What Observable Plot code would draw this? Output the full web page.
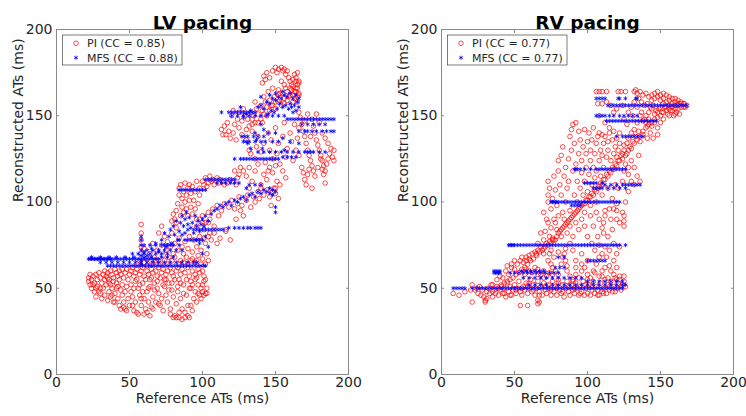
<!DOCTYPE html>
<html><head><meta charset="utf-8">
<script src="https://cdn.jsdelivr.net/npm/d3@7"></script>
<script src="https://cdn.jsdelivr.net/npm/@observablehq/plot@0.6"></script>
<style>
html,body{margin:0;padding:0;background:#fff;}
#wrap{position:relative;width:746px;height:416px;overflow:hidden;font-family:"DejaVu Sans",sans-serif;}
#wrap > svg{position:absolute;top:0;}
</style></head><body><div id="wrap"></div>
<script>
const titles = ["LV pacing", "RV pacing"];
const lvLegend = ["PI (CC = 0.85)", "MFS (CC = 0.88)"];
const rvLegend = ["PI (CC = 0.77)", "MFS (CC = 0.77)"];
const axisTicks = [0, 50, 100, 150, 200];
const xLabel = "Reference ATs (ms)";
const yLabel = "Reconstructed ATs (ms)";

// LV pacing, PI: flat [x, y, x, y, ...]
const lvPiPairs = [
22,56,22,54,23,52,23,58,24,55,25,57,26,53,27,58,28,55,29,59,30,56,31,53,32,58,33,60,34,57,35,59,36,55,37,60,38,58,39,56,40,61,41,59,42,57,43,60,44,58,45,61,46,56,47,59,48,61,50,58,51,60,52,62,53,57,54,59,55,61,57,58,58,60,59,62,60,57,62,60,63,58,65,61,66,59,68,60,69,57,70,62,72,59,73,61,75,58,76,60,78,62,79,59,80,57,82,60,83,62,85,58,86,61,88,59,90,62,91,57,93,60,95,58,97,61,98,59,100,60,101,57,102,55,
24,50,26,48,27,45,28,51,30,47,31,44,32,50,33,46,34,52,35,43,36,48,37,45,38,50,39,42,40,47,41,53,42,44,43,40,44,49,45,46,46,42,47,38,48,51,49,44,50,40,51,48,52,45,53,37,54,42,55,36,56,50,57,46,58,40,59,53,60,44,61,38,62,48,63,42,64,51,65,39,66,45,67,49,68,42,69,54,70,47,71,40,72,44,73,37,74,51,75,46,76,42,77,49,78,38,79,53,80,45,81,34,82,41,83,48,84,33,85,44,86,38,87,52,88,36,89,46,90,40,91,33,92,50,93,37,94,44,95,48,96,42,97,52,98,46,99,50,100,48,101,54,102,47,103,50,80,33,82,33,86,32,88,33,90,34,56,35,48,37,62,36,66,38,44,38,70,41,30,50,36,53,42,51,54,54,64,55,74,55,84,55,92,54,
25,52,27,50,29,48,33,55,35,56,37,52,39,54,41,50,43,55,45,52,47,48,49,55,51,52,53,50,55,55,57,52,59,48,61,55,63,50,65,56,67,53,69,50,71,56,73,52,75,55,77,53,79,49,81,55,83,51,85,53,87,47,89,55,91,50,93,52,95,55,97,47,99,44,101,46,103,47,100,52,96,56,60,35,64,34,84,36,78,35,92,40,58,44,46,39,52,40,40,42,38,46,
55,64,57,66,58,70,58,74,58,78,58,82,58,87,60,65,62,67,64,70,65,64,67,68,69,72,70,66,72,75,73,69,74,80,75,72,76,77,77,68,78,74,79,82,80,70,81,76,82,85,83,72,84,79,85,66,86,74,87,70,88,77,89,68,90,73,91,80,92,66,93,71,94,78,95,65,96,74,97,69,98,80,99,72,100,67,101,84,102,76,103,70,104,88,105,82,100,88,98,90,96,86,70,82,72,86,66,76,60,73,
62,63,66,64,68,66,71,64,74,66,76,64,79,66,81,68,84,64,87,65,90,64,93,67,96,66,99,64,102,64,104,66,
81,90,82,95,83,99,84,104,84,108,85,92,85,110,86,97,86,102,87,106,87,94,88,100,88,111,89,96,89,104,90,108,90,92,91,101,91,110,92,97,92,105,93,93,93,109,94,101,95,96,95,106,96,90,96,112,97,99,98,104,82,88,80,93,79,89,
98,108,100,112,101,110,102,114,103,109,104,111,105,115,106,112,107,113,108,110,110,114,111,111,112,113,114,112,115,110,117,111,119,113,121,112,123,110,124,114,125,116,
100,92,102,88,104,94,105,90,107,96,108,86,110,98,111,92,113,95,115,99,116,84,118,97,119,78,120,101,122,96,124,99,125,103,127,98,128,92,130,101,131,104,133,97,135,103,136,100,138,106,139,102,140,108,142,104,144,107,146,103,148,106,150,105,147,98,152,102,150,108,123,90,126,95,108,82,104,80,112,79,116,83,101,79,110,76,106,78,
128,118,130,115,132,120,134,112,136,118,138,122,140,110,142,116,144,113,146,120,149,108,151,112,153,110,155,118,157,114,126,120,122,118,132,108,
113,142,115,144,116,139,117,146,118,141,119,137,120,150,121,140,122,145,123,136,124,148,125,143,125,152,127,139,127,147,128,154,114,139,121,153,
141,169,142,173,143,171,144,175,146,172,148,176,150,178,151,175,152,177,154,178,155,176,156,177,157,174,158,176,159,172,160,170,161,168,162,171,163,174,164,172,165,175,166,170,164,166,166,163,163,164,162,167,165,168,156,168,154,170,152,165,148,166,145,164,153,163,
165,158,166,162,165,166,166,169,164,170,163,160,162,158,160,162,158,159,156,157,154,156,152,158,150,154,148,156,146,153,144,150,142,151,140,148,138,146,136,146,134,148,
129,150,131,148,133,152,135,150,137,154,138,151,140,156,141,153,143,158,144,155,146,159,147,156,149,161,150,158,152,162,153,159,155,163,156,160,158,164,159,161,161,165,162,162,164,164,165,161,160,166,157,166,142,161,136,158,134,145,132,144,130,142,
130,136,132,130,133,128,134,141,136,125,137,132,138,138,140,129,141,146,142,134,143,123,145,140,146,130,147,136,148,125,150,143,151,128,152,134,153,122,155,138,156,146,157,126,158,131,160,140,161,135,162,124,163,145,164,130,165,137,166,127,150,121,148,117,145,118,
166,152,167,149,168,145,169,141,170,138,171,134,172,130,173,127,174,124,175,121,176,118,177,115,168,120,169,117,170,113,171,110,172,116,173,119,175,148,176,144,177,140,178,136,179,133,180,130,181,127,182,124,183,121,184,118,185,122,186,125,187,128,188,131,189,126,190,130,190,124,182,140,184,137,186,134,180,146,178,151,172,151,170,147,175,108,182,119,183,116,184,111,181,125,179,120,166,143,174,138
];

// LV pacing, MFS: horizontal runs (level y, x positions) plus scattered points
const lvMfsLevels = [67,68,65,63,70,75,72,78,84,85,107,113,111,125,129,126,135,138,141,148,152,150,145];
const lvMfsRunX = [
[22,23,24,25,26,27,28,29,30,31,32,33,34,35,36,37,38,40,42,44,46,48,50,52,54,56,58,60,62,64,66,68,70],
[24,30,36,41,47,53,60,65,72,76,80],
[30,34,38,42,46,50,54,58,62,66,70,74,78,82,86,90,94,96],
[35,37,39,41,43,45,47,49,51,53,55,57,59,61,63,65,67,69,71,73,75,77,79,81,83,85,87,89,91,93,95,97,99,101,102],
[52,56,60,64,68,72,76],
[60,64,68,72,74,76,78,80,84],
[62,66,70,74,78,82,86],
[84,88,90,92,94,96,98,100],
[94,96,98,100,102,104,106,108,110,112,114],
[118,122,125,128,131,133,136,138,140],
[84,86,88,90,92,94,96,98,100,102],
[102,104,106,108,110,112,114,116,118,120,122],
[110,113,116,119,122,125],
[122,126,128,130,132,134,136,138,140,142,144,146,148,150,152],
[138,142,146,150,154,158,162,166,170,172,174,176,180,184],
[155,158,161,164],
[128,130,132,136,140,143,148,152],
[127,129,131,135,138,142],
[166,170,172,175,178,182,185,188,190],
[158,160,162,164,166,168,170,172,174,176,178,180,182,184,186,188,190],
[113,118,120,122,124,126,128,130,132,134],
[120,124,128,132,136,140,144,148,152,156],
[168,172,176,180,184]
];
const lvMfsPairs = [
58,64,58,66,58,69,58,72,58,75,58,78,58,80,60,71,62,69,65,73,68,76,70,71,72,78,74,82,75,74,77,80,78,84,79,76,80,86,81,81,82,89,83,78,84,83,85,88,86,81,86,92,87,86,88,90,88,82,89,94,90,87,90,84,91,91,92,85,93,88,94,82,95,92,96,86,97,89,98,83,99,87,100,90,101,86,102,92,104,89,106,93,108,95,110,96,112,98,114,97,116,99,118,100,120,98,122,101,124,100,126,102,128,103,130,101,132,104,134,105,136,103,138,106,140,105,142,107,144,106,146,105,148,107,150,106,150,97,150,94,148,104,146,108,130,108,132,110,136,110,140,110,100,70,104,74,102,80,98,76,96,78,
130,151,133,153,136,152,138,155,140,156,142,154,144,158,146,157,148,160,150,159,152,161,154,160,156,162,158,161,160,163,162,160,164,162,165,158,163,156,161,155,159,154,157,156,155,155,153,157,151,154,149,152,147,153,145,151,166,155,166,160,164,153,146,162,140,161,150,163,155,164,160,157,162,152,140,145,142,142,145,140,136,140,150,140,155,137,160,135,126,155,128,149,131,134,133,131,137,136,141,131,156,130,166,134
];

// RV pacing, PI
const rvPiPairs = [
8,47,12,46,16,48,21,42,21,52,23,49,25,47,26,51,28,49,29,45,30,43,30,42,31,44,32,50,33,47,34,52,35,45,36,49,37,47,38,51,39,46,40,49,41,52,42,47,43,50,44,45,45,53,46,48,47,51,48,46,49,49,50,52,51,47,52,50,53,54,54,48,55,46,56,51,57,49,58,53,59,47,60,50,61,55,62,48,63,52,64,46,65,50,66,54,67,48,68,51,69,46,70,53,71,49,72,47,73,52,74,50,75,46,76,54,77,48,78,51,79,46,80,53,81,49,82,47,83,52,84,45,85,50,86,54,87,48,88,46,89,52,90,49,91,47,92,53,93,50,94,46,95,51,96,48,97,54,98,46,99,50,100,47,101,52,102,46,103,49,104,54,105,47,106,51,107,49,108,46,109,53,110,48,111,50,112,55,113,47,114,52,115,49,116,54,117,48,118,51,119,56,120,50,121,53,122,55,123,49,124,52,125,54,126,51,
20,49,24,50,27,46,31,48,35,48,39,50,43,47,47,46,51,49,55,50,59,51,63,49,67,46,71,51,75,49,79,50,83,48,87,51,91,50,95,47,99,52,103,51,107,46,111,47,115,51,119,48,123,51,60,53,70,56,80,55,90,54,100,55,110,57,120,55,125,57,105,59,115,63,118,66,108,68,96,64,92,62,86,60,76,58,66,58,
54,40,59,40,66,41,67,42,66,43,
35,52,38,55,40,57,42,56,44,60,46,58,48,62,50,61,52,64,54,66,56,65,58,68,60,67,62,70,64,71,66,72,68,74,70,73,72,76,74,77,76,79,78,78,80,82,82,84,84,86,86,88,88,90,90,92,92,94,94,96,96,98,98,99,100,101,102,103,104,104,106,106,108,109,110,110,112,113,114,115,116,117,118,119,120,121,122,124,124,125,126,127,128,130,130,131,132,134,134,136,136,138,138,141,140,143,142,145,144,146,146,148,148,149,150,150,152,152,154,153,156,154,158,155,160,156,162,156,164,157,166,157,168,156,
137,152,139,148,141,144,135,141,133,138,131,135,129,132,127,134,125,130,123,127,121,124,119,122,117,120,115,118,113,116,111,113,109,111,107,108,105,107,103,105,101,103,99,101,97,99,95,97,93,95,91,93,89,91,87,89,85,87,83,85,81,83,79,80,77,78,75,76,73,75,71,74,69,72,67,71,65,69,63,67,61,66,59,64,57,62,55,61,53,59,51,58,49,56,47,55,45,54,43,53,41,51,
45,63,50,66,55,68,60,69,65,70,70,70,75,72,80,71,85,73,48,64,58,66,
57,58,58,61,60,60,62,59,64,62,66,61,68,58,70,60,72,57,74,59,76,62,78,60,80,58,82,64,83,68,84,70,85,66,86,63,88,57,90,55,92,58,94,56,96,60,98,62,100,58,102,56,104,60,106,64,108,57,110,60,112,62,114,56,116,60,118,58,120,62,122,57,
133,165,134,163,136,164,138,162,140,163,142,161,144,162,146,160,148,161,150,159,152,160,154,158,156,159,158,157,160,158,162,157,164,158,166,157,167,155,135,160,137,158,139,156,141,157,143,155,145,156,147,153,149,154,151,152,153,155,155,151,157,153,159,150,161,152,163,151,136,150,138,147,140,150,142,148,144,144,146,146,148,143,150,146,134,146,132,142,130,140,138,139,141,137,143,140,136,135,134,155,131,150,130,155,132,158,128,152,127,145,125,148,145,137,148,139,152,148,156,150,160,154,
140,146,142,152,144,154,146,151,148,152,150,155,152,157,154,155,156,156,158,153,160,151,162,154,164,155,166,155,144,159,146,163,148,164,150,162,152,163,154,162,156,161,158,160,160,160,162,159,
106,164,108,164,110,164,113,164,121,164,123,164,126,164,132,164,
107,157,110,157,113,158,116,156,120,154,124,156,118,152,108,150,112,146,115,143,118,141,120,137,110,139,114,135,122,140,125,133,128,137,127,128,130,124,132,120,135,127,134,115,136,112,132,110,128,116,125,118,
73,100,73,104,74,108,73,112,75,96,76,102,77,90,77,115,78,107,79,98,80,118,80,124,81,110,82,127,82,104,83,132,83,94,84,115,85,120,85,100,86,108,87,112,87,125,88,95,88,138,89,142,89,130,90,145,90,118,91,104,91,134,92,146,92,122,93,100,93,112,94,141,94,128,95,108,95,136,96,117,96,124,97,132,97,104,98,142,98,112,99,120,99,128,100,135,100,106,101,116,101,140,102,124,102,130,103,110,103,136,104,120,104,143,105,128,105,114,106,134,106,118,107,138,108,124,108,140,109,130,109,115,110,127,111,134,111,120,112,138,113,126,114,130,115,140,116,124,117,136,118,128,119,132,120,126,121,130,122,134,124,128,126,122,128,120,
74,70,74,80,75,85,76,78,78,88,79,84,80,92,82,80,84,90,86,82,88,86,90,80,92,88,94,84,96,90,98,86,100,80,102,92,104,86,106,94,108,90,110,85,111,82,111,88,112,92,112,95,114,80,116,90,118,96,120,90,120,95,120,99,122,88,124,94,125,86,125,89,125,92,72,90,70,94,73,88,71,83,75,64,77,68,73,66,70,78,68,82,66,76,105,72,108,75,110,70,113,68,115,72,118,76,120,70,122,74,100,66,96,70,92,66,90,72,88,76,103,76,98,94,102,98,106,100,110,104,114,108,117,102,121,108,124,112,128,106,130,112,126,100,119,110,115,96,117,84,112,74,107,80
];

// RV pacing, MFS horizontal runs
const rvMfsLevels = [50,52,54,56,59,60,62,66,68,75,98,100,111,110,108,119,138,147,150,156,160];
const rvMfsRunX = [
[8,10,12,14,16,21,24,26,28,30,32,34,36,38,40,42,44,46,48,50,52,54,56,58,60,62,64,66,68,70,72,74,76,78,80,82,84,86,88,90,92,94,96,98,100,102,104,106,108,110,112,114,116,118,120,122,124],
[60,64,68,72,76,80,84,88,92,96,100,104,108,112,116,120,124,126],
[100,104,108,112,116,120,124],
[56,60,64,68,72,76,80,84,88,92,96],
[36,37,38,39,40,47,50,53,56,59,62,65,68,71,74,77,80],
[36,38,40,55,58,61,64,67,70],
[78,81,84],
[100,102,104,106,108,110,112],
[80,84],
[46,47,48,49,50,52,54,56,58,60,62,64,66,68,70,72,74,76,78,80,82,84,86,88,90,92,94,96,98,100,102,104,106,108,110,112,114,116,118,120,122,126],
[89,91,93,95],
[75,76,77,78,79,80,82,84,86,88,90,92,94,96,98,100,102,104,106,108,110,112,114,116,118,120,122],
[98,100,102,104,106,110],
[112,116,120,124,126,128,130,132,134,136],
[104,106,108,110,114,118,122,126],
[91,92,93,95,98,102,106,108,110,112,114,116,118,120,122,124,126],
[120,124,126,128,130,132,134,136,138],
[113,115,117,119,121,123,125,127,129,131,133,135,137,139,141,143,145,147],
[106,108,110,112,115,118,122,125,128,131,134],
[114,116,118,120,122,124,126,128,130,132,134,136,138,140,142,144,146,148,150,152,154,156,158,160,162,164,166,168],
[106,108,110,112,121,122,126,133,134]
];

function pairsToRows(p) { const r = []; for (let i = 0; i < p.length; i += 2) r.push({x: p[i], y: p[i + 1]}); return r; }
function runsToRows(levels, xs) { const r = []; levels.forEach((y, i) => xs[i].forEach(x => r.push({x, y}))); return r; }

const ink = "#262626";
const frameGray = "#8a8a8a";

function panel({title, legend, pi, mfs, ml, mr}) {
  const chart = Plot.plot({
    width: 373, height: 416,
    marginLeft: ml, marginRight: mr, marginTop: 29, marginBottom: 42,
    x: {domain: [0, 200]}, y: {domain: [0, 200]},
    style: {fontFamily: '"DejaVu Sans", sans-serif', fontSize: "14px", color: ink, background: "white", overflow: "visible"},
    marks: [
      Plot.dot(pi, {x: "x", y: "y", r: 2.3, stroke: "#ff0000", strokeWidth: 0.7, fill: "none"}),
      Plot.dot(mfs, {x: "x", y: "y", r: 2, symbol: "asterisk", stroke: "#0000ff", strokeWidth: 0.8}),
      Plot.frame({stroke: frameGray}),
      Plot.axisX({ticks: axisTicks, anchor: "bottom", tickSize: 0, tickPadding: 3, label: null, fontSize: 14}),
      Plot.axisY({ticks: axisTicks, anchor: "left", tickSize: 0, tickPadding: 4, label: null, fontSize: 14}),
      Plot.axisX({ticks: axisTicks, anchor: "bottom", tickSize: -3, text: null, label: null, stroke: frameGray}),
      Plot.axisX({ticks: axisTicks, anchor: "top", tickSize: -3, text: null, label: null, stroke: frameGray}),
      Plot.axisY({ticks: axisTicks, anchor: "left", tickSize: -3, text: null, label: null, stroke: frameGray}),
      Plot.axisY({ticks: axisTicks, anchor: "right", tickSize: -3, text: null, label: null, stroke: frameGray}),
      Plot.text([title], {text: d => d, frameAnchor: "top", dy: -14, fontSize: 18.5, fontWeight: "bold", fill: "black"}),
      Plot.text([xLabel], {text: d => d, frameAnchor: "bottom", dy: 28, fontSize: 14, fill: ink}),
      Plot.text([yLabel], {text: d => d, frameAnchor: "left", rotate: -90, dx: -38, fontSize: 14, fill: ink})
    ]
  });
  // legend box
  const svg = d3.select(chart);
  const g = svg.append("g").attr("font-family", '"DejaVu Sans", sans-serif').attr("font-size", 11).attr("text-anchor", "start");
  const lx = ml + 6.5;
  g.append("rect").attr("x", lx).attr("y", 35).attr("width", 119.5).attr("height", 30)
    .attr("fill", "white").attr("stroke", ink).attr("stroke-width", 0.6);
  const mx = ml + 20;
  g.append("circle").attr("cx", mx).attr("cy", 43.3).attr("r", 2.3).attr("fill", "none").attr("stroke", "#ff0000").attr("stroke-width", 0.7);
  g.append("path").attr("transform", `translate(${mx},57.7)`).attr("d", d3.symbol(d3.symbolAsterisk, Math.PI * 4)())
    .attr("fill", "none").attr("stroke", "#0000ff").attr("stroke-width", 0.8);
  g.append("text").attr("x", ml + 31).attr("y", 43.3).attr("dy", "0.35em").attr("text-anchor", "start").attr("fill", ink).text(legend[0]);
  g.append("text").attr("x", ml + 31).attr("y", 57.7).attr("dy", "0.35em").attr("text-anchor", "start").attr("fill", ink).text(legend[1]);
  return chart;
}

const wrap = document.getElementById("wrap");
const left = panel({title: titles[0], legend: lvLegend, pi: pairsToRows(lvPiPairs),
  mfs: runsToRows(lvMfsLevels, lvMfsRunX).concat(pairsToRows(lvMfsPairs)), ml: 56, mr: 25});
left.style.left = "0px";
wrap.appendChild(left);
const right = panel({title: titles[1], legend: rvLegend, pi: pairsToRows(rvPiPairs),
  mfs: runsToRows(rvMfsLevels, rvMfsRunX), ml: 68, mr: 13});
right.style.left = "373px";
wrap.appendChild(right);
</script></body></html>
